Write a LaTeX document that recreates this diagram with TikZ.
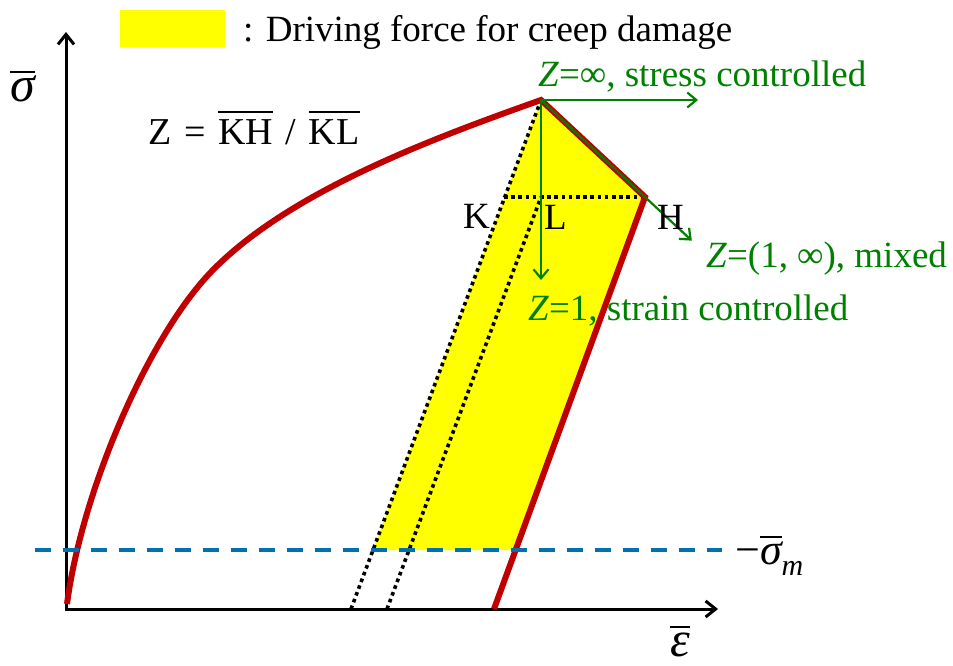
\documentclass[tikz,border=0pt]{standalone}
\usepackage{fontspec}
\setmainfont{Liberation Serif}
\usetikzlibrary{arrows.meta,calc}
\definecolor{cred}{RGB}{192,0,0}
\definecolor{cgreen}{RGB}{0,128,0}
\definecolor{cblue}{RGB}{0,112,176}
\definecolor{cyel}{RGB}{255,255,0}
\newcommand{\ovl}[3]{\vbox{\hrule height #1\kern #2\hbox{#3}}}
\begin{document}
\begin{tikzpicture}[x=1pt,y=-1pt,
  lbl/.style={inner sep=0pt, anchor=base west, font=\fontsize{37}{37}\selectfont},
  glbl/.style={lbl, text=cgreen},
  biglbl/.style={inner sep=0pt, anchor=base west, font=\fontsize{50}{50}\selectfont},
  axisline/.style={line width=3pt, line join=miter},
  redline/.style={cred, line width=6pt},
  dotline/.style={line width=3.6pt, dash pattern=on 3.6pt off 3.6pt},
  dashblue/.style={cblue, line width=4pt, dash pattern=on 16pt off 12pt},
  garrow/.style={cgreen, line width=2.2pt, -{Straight Barb[length=9pt,width=15pt,line width=2.2pt]}},
  ]
\useasboundingbox (0,0) rectangle (953,666);

% key points
\coordinate (O) at (66,609);
\coordinate (Ytip) at (66,32);
\coordinate (Xtip) at (718,609);
\coordinate (S) at (67,604);
\coordinate (M) at (211,272);
\coordinate (P) at (541,100);
\coordinate (H) at (645,197);
\coordinate (R0) at (494,609);
\coordinate (D1) at (351,609);
\coordinate (D2) at (387,609);
\coordinate (K) at (504,197);
\coordinate (L) at (541,197);
\coordinate (Y1) at (373,550);
\coordinate (Y2) at (516,550);
\coordinate (B1) at (35,550);
\coordinate (B2) at (722,550);
\coordinate (G1) at (698,100);
\coordinate (G2) at (541,280);
\coordinate (G3) at ($(P)!1.45!(H)$);

% legend
\node[fill=cyel, minimum width=105pt, minimum height=37pt, inner sep=0pt] (leg) at (172.5,28.5) {};
\node[lbl] (legt) at (243,42) {: Driving force for creep damage};

% yellow region
\fill[cyel] (P) -- (H) -- (Y2) -- (Y1) -- cycle;

% axes
\draw[axisline, {Straight Barb[length=10pt,width=16pt,line width=3pt]}-{Straight Barb[length=10pt,width=16pt,line width=3pt]}] (Ytip) -- (O) -- (Xtip);

% dotted lines
\draw[dotline] (D1) -- (P);
\draw[dotline] (D2) -- (L);
\draw[dotline] (K) -- (H);

% red stress-strain curve
\draw[redline] (S) .. controls (82,490) and (148.5,337) .. (M)
  .. controls (290,190) and (440,136) .. (P) -- (H) -- (R0);

% blue dashed mean stress line
\draw[dashblue] (B1) -- (B2);

% green arrows
\draw[garrow] (P) -- (G1);
\draw[garrow] (P) -- (G2);
\draw[garrow] (P) -- (G3);

% labels
\node[biglbl] (sig) at (10,102) {\ovl{2.2pt}{3pt}{\itshape σ}};
\node[biglbl] (eps) at (670,656) {\ovl{2.2pt}{4pt}{\itshape ε}};
\node[inner sep=0pt, anchor=base west, font=\fontsize{44}{44}\selectfont] (sigm) at (735,564) {−\ovl{2.2pt}{3pt}{\itshape σ}\raisebox{-0.25em}{\fontsize{30}{30}\selectfont\itshape m}};
\node[lbl, font=\fontsize{38}{38}\selectfont] (form) at (148,145) {Z\,\,=\,\,\ovl{2.5pt}{7pt}{KH}\,\,/\,\,\ovl{2.5pt}{7pt}{KL}};
\node[lbl] (lK) at (463,228) {K};
\node[lbl] (lL) at (544,229) {L};
\node[lbl] (lH) at (657,229) {H};
\node[glbl] (t1) at (538,87) {\textit{Z}=∞, stress controlled};
\node[glbl] (t2) at (706,267) {\textit{Z}=(1, ∞), mixed};
\node[glbl] (t3) at (528,320) {\textit{Z}=1, strain controlled};
\end{tikzpicture}
\end{document}
